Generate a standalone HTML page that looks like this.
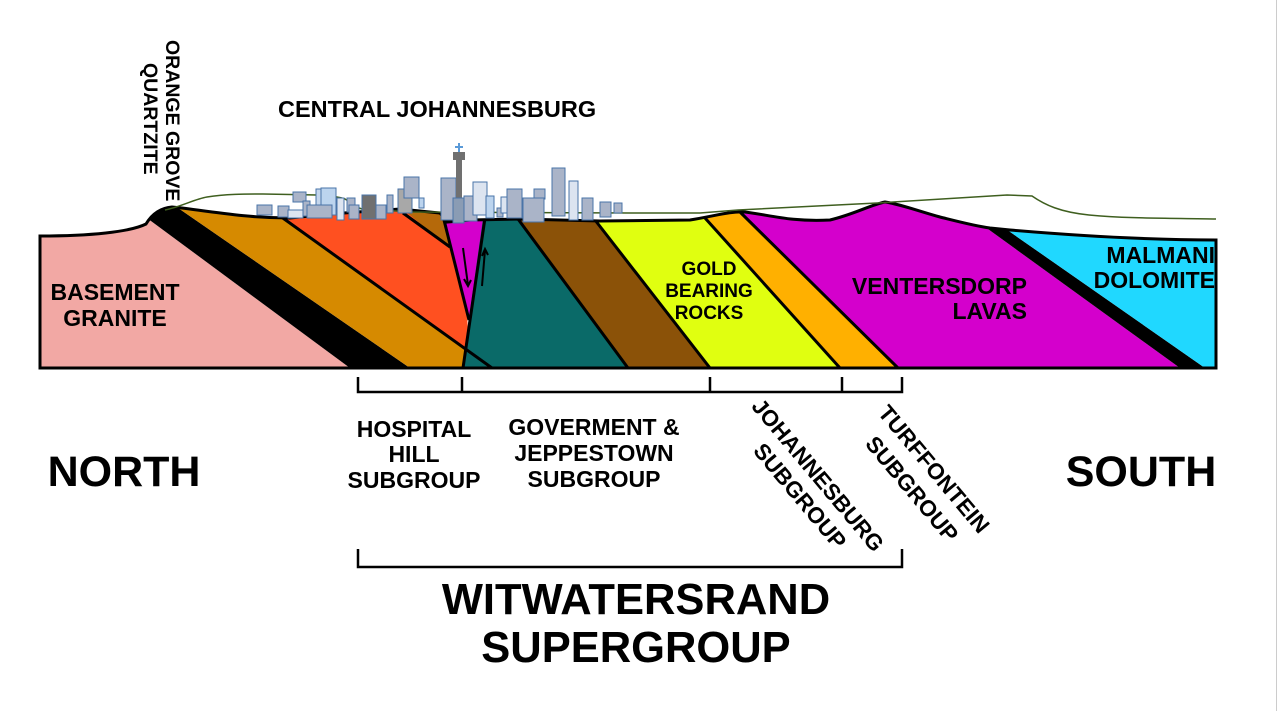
<!DOCTYPE html>
<html><head><meta charset="utf-8"><style>
html,body{margin:0;padding:0;background:#fff;}
svg{display:block;}
text{font-family:"Liberation Sans",Arial,sans-serif;font-weight:bold;fill:#000;}
</style></head><body>
<svg width="1280" height="711" viewBox="0 0 1280 711" xmlns="http://www.w3.org/2000/svg">
<rect x="0" y="0" width="1280" height="711" fill="#fff"/>
<line x1="1276.5" y1="0" x2="1276.5" y2="711" stroke="#ccc" stroke-width="1"/>
<defs>
<clipPath id="sec">
<path id="outline" d="M40,236 C90,236 130,232 146,224 C152,214 160,208 172,207 L182,208 C220,213 250,218 290,218 L330,214 L400,209 L440,213 L447,222 L470,220 L520,219 L600,221 L690,220 C715,216 730,211 745,212 C770,215 790,222 830,220 C855,214 870,205 885,202 C900,204 915,210 940,217 C960,222 975,226 990,228 L1010,230 C1080,236 1150,240 1216,240 L1216,368 L40,368 Z"/>
</clipPath>
</defs>
<g clip-path="url(#sec)">
<polygon points="40,190 109,190 350,368 40,368" fill="#F2A8A4"/>
<polygon points="109,190 152,190 410,368 350,368" fill="#000"/>
<polygon points="152,190 244,190 492,368 410,368" fill="#D68A00"/>
<polygon points="244,190 460,190 470,368 492,368" fill="#FF5020"/>
<polygon points="380,190 460,190 452,250" fill="#B5690A"/>
<polygon points="440,205 492,205 469,320" fill="#D400CC"/>
<polygon points="487,190 496,190 628,368 462,368" fill="#0A6A68"/>
<polygon points="496,190 571,190 710,368 628,368" fill="#8B5208"/>
<polygon points="571,190 679,190 840,368 710,368" fill="#E0FF10"/>
<polygon points="679,190 717,190 898,368 840,368" fill="#FFB000"/>
<polygon points="717,190 934,190 1180,368 898,368" fill="#D400CC"/>
<polygon points="934,190 950,190 1205,368 1180,368" fill="#000"/>
<polygon points="950,190 1230,190 1230,368 1205,368" fill="#20D8FF"/>
<g stroke="#000" stroke-width="3" fill="none">
<line x1="280" y1="216" x2="492" y2="368"/>
<line x1="403" y1="213" x2="450" y2="247"/>
<line x1="444" y1="220" x2="469" y2="320"/>
<line x1="485" y1="218" x2="463" y2="368"/>
<line x1="518" y1="219" x2="628" y2="368"/>
<line x1="595" y1="220" x2="710" y2="368"/>
<line x1="705" y1="218" x2="840" y2="368"/>
<line x1="740" y1="212" x2="898" y2="368"/>
</g>
</g>
<use href="#outline" fill="none" stroke="#000" stroke-width="3"/>
<g stroke="#000" stroke-width="2" fill="none">
<path d="M463,248 L468,285 M464,279 L468,286 L471,280"/>
<path d="M482,286 L485,250 M482,256 L485,249 L488,255"/>
</g>
<path d="M165,210 C180,207 195,199 207,197 C225,194 245,194 263,194 L317,195 C333,196 340,197 345,199 C352,203 355,207 362,209 L413,212 L630,213 L700,213 L738,210 L877,203 L1007,195 L1032,196 C1045,205 1060,212 1089,215 C1130,219 1180,218 1216,219" fill="none" stroke="#3F5F1F" stroke-width="1.5"/>
<g stroke="#4A74A8" stroke-width="1">
<rect x="257" y="205" width="15" height="10" fill="#AAB4C8"/>
<rect x="278" y="206" width="11" height="11" fill="#AAB4C8"/>
<rect x="288" y="210" width="15" height="8" fill="#DCE4F0"/>
<rect x="293" y="192" width="13" height="10" fill="#AAB4C8"/>
<rect x="303" y="201" width="7" height="15" fill="#AAB4C8"/>
<rect x="316" y="189" width="6" height="26" fill="#C4D6EC"/>
<rect x="321" y="188" width="15" height="27" fill="#BCD4EE"/>
<rect x="307" y="205" width="25" height="13" fill="#AAB4C8"/>
<rect x="337" y="198" width="7" height="22" fill="#DCE4F0"/>
<rect x="347" y="198" width="8" height="14" fill="#AAB4C8"/>
<rect x="349" y="205" width="10" height="14" fill="#AAB4C8"/>
<rect x="362" y="195" width="14" height="24" fill="#707070"/>
<rect x="376" y="205" width="10" height="14" fill="#AAB4C8"/>
<rect x="387" y="195" width="6" height="18" fill="#AAB4C8"/>
<rect x="398" y="189" width="14" height="24" fill="#A8A8A8"/>
<rect x="404" y="177" width="15" height="21" fill="#AAB4C8"/>
<rect x="419" y="198" width="5" height="10" fill="#BCD4EE"/>
<rect x="441" y="178" width="15" height="42" fill="#AAB4C8"/>
<rect x="456" y="158" width="6" height="62" fill="#707070" stroke="none"/>
<rect x="453" y="152" width="12" height="8" fill="#707070" stroke="none"/>
<path d="M459,143 V152 M455,147 H463" stroke="#5A9AD8" stroke-width="2"/>
<rect x="453" y="198" width="11" height="25" fill="#8A9CB4"/>
<rect x="464" y="196" width="13" height="25" fill="#AAB4C8"/>
<rect x="473" y="182" width="14" height="33" fill="#DCE4F0"/>
<rect x="486" y="196" width="8" height="22" fill="#BCD4EE"/>
<rect x="497" y="208" width="6" height="9" fill="#AAB4C8"/>
<rect x="501" y="197" width="14" height="16" fill="#DCE4F0"/>
<rect x="507" y="189" width="15" height="29" fill="#AAB4C8"/>
<rect x="534" y="189" width="11" height="10" fill="#AAB4C8"/>
<rect x="523" y="198" width="21" height="24" fill="#AAB4C8"/>
<rect x="552" y="168" width="13" height="48" fill="#AAB4C8"/>
<rect x="569" y="181" width="9" height="39" fill="#DCE4F0"/>
<rect x="582" y="198" width="11" height="22" fill="#AAB4C8"/>
<rect x="600" y="202" width="11" height="15" fill="#AAB4C8"/>
<rect x="614" y="203" width="8" height="10" fill="#AAB4C8"/>
</g>
<text x="278" y="117" font-size="23.5">CENTRAL JOHANNESBURG</text>
<g transform="translate(166,40) rotate(90)"><text x="0" y="0" font-size="19.5">ORANGE GROVE</text></g>
<g transform="translate(144,63) rotate(90)"><text x="0" y="0" font-size="19.5">QUARTZITE</text></g>
<text x="115" y="300" font-size="23" text-anchor="middle">BASEMENT</text>
<text x="115" y="326" font-size="23" text-anchor="middle">GRANITE</text>
<text x="709" y="275" font-size="19" text-anchor="middle">GOLD</text>
<text x="709" y="297" font-size="19" text-anchor="middle">BEARING</text>
<text x="709" y="319" font-size="19" text-anchor="middle">ROCKS</text>
<text x="1027" y="294" font-size="23" text-anchor="end">VENTERSDORP</text>
<text x="1027" y="319" font-size="23" text-anchor="end">LAVAS</text>
<text x="1215" y="263" font-size="23" text-anchor="end">MALMANI</text>
<text x="1215" y="288" font-size="23" text-anchor="end">DOLOMITE</text>
<g stroke="#000" stroke-width="2.5" fill="none">
<path d="M358,377 V392 H902 V377 M462,377 V392 M710,377 V392 M842,377 V392"/>
<path d="M358,549 V567 H902 V549"/>
</g>
<text x="414" y="437" font-size="23" text-anchor="middle">HOSPITAL</text>
<text x="414" y="462" font-size="23" text-anchor="middle">HILL</text>
<text x="414" y="488" font-size="23" text-anchor="middle">SUBGROUP</text>
<text x="594" y="435" font-size="23" text-anchor="middle">GOVERMENT &amp;</text>
<text x="594" y="461" font-size="23" text-anchor="middle">JEPPESTOWN</text>
<text x="594" y="487" font-size="23" text-anchor="middle">SUBGROUP</text>
<g transform="translate(812,480) rotate(50)"><text x="0" y="0" font-size="22.5" text-anchor="middle">JOHANNESBURG</text></g>
<g transform="translate(794,501) rotate(50)"><text x="0" y="0" font-size="22.5" text-anchor="middle">SUBGROUP</text></g>
<g transform="translate(928,474) rotate(50)"><text x="0" y="0" font-size="22.5" text-anchor="middle">TURFFONTEIN</text></g>
<g transform="translate(906,494) rotate(50)"><text x="0" y="0" font-size="22.5" text-anchor="middle">SUBGROUP</text></g>
<text x="124" y="486" font-size="43" text-anchor="middle">NORTH</text>
<text x="1141" y="486" font-size="43" text-anchor="middle">SOUTH</text>
<text x="636" y="614" font-size="43.5" text-anchor="middle">WITWATERSRAND</text>
<text x="636" y="662" font-size="43.5" text-anchor="middle">SUPERGROUP</text>
</svg>
</body></html>
